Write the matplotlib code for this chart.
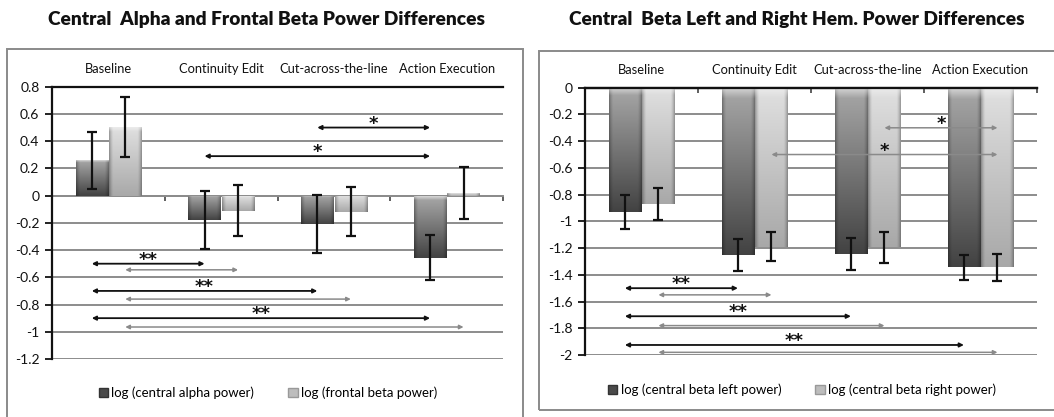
import numpy as np
import matplotlib
matplotlib.use("Agg")
import matplotlib.pyplot as plt
from matplotlib.patches import Rectangle, Patch
from matplotlib.transforms import blended_transform_factory

plt.rcParams['font.family'] = ['Lato', 'DejaVu Sans']
plt.rcParams['axes.unicode_minus'] = False

W, H = 1054, 417

categories = ['Baseline', 'Continuity Edit', 'Cut-across-the-line', 'Action Execution']

# ---- left panel data ----
left_title = 'Central  Alpha and Frontal Beta Power Differences'
left_series_names = ['log (central alpha power)', 'log (frontal beta power)']
alpha_vals = [0.26, -0.18, -0.21, -0.455]
alpha_err = [0.21, 0.215, 0.215, 0.165]
fbeta_vals = [0.505, -0.11, -0.12, 0.02]
fbeta_err = [0.22, 0.185, 0.18, 0.19]
left_yticks = [0.8, 0.6, 0.4, 0.2, 0, -0.2, -0.4, -0.6, -0.8, -1, -1.2]
left_ylabels = ['0.8', '0.6', '0.4', '0.2', '0', '-0.2', '-0.4', '-0.6', '-0.8', '-1', '-1.2']
# significance brackets: (from category, to category, series index, y, label)
left_brackets = [
    (2, 3, 0, 0.50, '*'),
    (1, 3, 0, 0.29, '*'),
    (0, 1, 0, -0.50, '**'),
    (0, 1, 1, -0.545, ''),
    (0, 2, 0, -0.70, '**'),
    (0, 2, 1, -0.76, ''),
    (0, 3, 0, -0.90, '**'),
    (0, 3, 1, -0.965, ''),
]

# ---- right panel data ----
right_title = 'Central  Beta Left and Right Hem. Power Differences'
right_series_names = ['log (central beta left power)', 'log (central beta right power)']
bleft_vals = [-0.93, -1.255, -1.245, -1.345]
bleft_err = [0.13, 0.12, 0.122, 0.095]
bright_vals = [-0.87, -1.19, -1.195, -1.345]
bright_err = [0.123, 0.11, 0.116, 0.10]
right_yticks = [0, -0.2, -0.4, -0.6, -0.8, -1, -1.2, -1.4, -1.6, -1.8, -2]
right_ylabels = ['0', '-0.2', '-0.4', '-0.6', '-0.8', '-1', '-1.2', '-1.4', '-1.6', '-1.8', '-2']
right_brackets = [
    (2, 3, 1, -0.30, '*'),
    (1, 3, 1, -0.50, '*'),
    (0, 1, 0, -1.50, '**'),
    (0, 1, 1, -1.55, ''),
    (0, 2, 0, -1.71, '**'),
    (0, 2, 1, -1.78, ''),
    (0, 3, 0, -1.925, '**'),
    (0, 3, 1, -1.98, ''),
]

BAR_W = 0.285
OFFS = [-0.147, 0.150]
DARK = (0.66, 0.26)   # top, bottom gray levels
LIGHT = (0.88, 0.66)
ARROW_COLORS = ['#111111', '#8a8a8a']


def shade(ax, bars, top, bottom):
    ny, nx = 80, 40
    for b in bars:
        x0, y0 = b.get_x(), b.get_y()
        w, h = b.get_width(), b.get_height()
        ylo, yhi = min(y0, y0 + h), max(y0, y0 + h)
        t = np.linspace(0, 1, ny)[:, None]
        s = np.linspace(-1, 1, nx)[None, :]
        base = top + (bottom - top) * t
        edge = np.clip((np.abs(s) - 0.75) / 0.25, 0, 1) ** 1.5
        val = base * (1 - 0.30 * edge)
        rim = np.clip(1 - t / 0.06, 0, 1)
        val = val + (0.95 - val) * rim * 0.6
        val = np.clip(val, 0, 1)
        img = np.dstack([val, val, val])
        im = ax.imshow(img, extent=(x0, x0 + w, ylo, yhi), origin='upper',
                       aspect='auto', zorder=2.1, interpolation='bilinear')
        im.set_clip_path(b)


def panel(ax, s1, e1, s2, e2, yticks, ylabels, ylim, zero_is_top, brackets):
    x = np.arange(len(categories))
    b1 = ax.bar(x + OFFS[0], s1, BAR_W, color='#555555', edgecolor='none', zorder=2)
    b2 = ax.bar(x + OFFS[1], s2, BAR_W, color='#bbbbbb', edgecolor='none', zorder=2)
    shade(ax, b1, *DARK)
    shade(ax, b2, *LIGHT)
    ax.errorbar(x + OFFS[0], s1, yerr=e1, fmt='none', ecolor='#111111',
                elinewidth=1.6, capsize=3.6, capthick=1.6, zorder=4)
    ax.errorbar(x + OFFS[1], s2, yerr=e2, fmt='none', ecolor='#111111',
                elinewidth=1.6, capsize=3.6, capthick=1.6, zorder=4)

    ax.set_xlim(-0.5, len(categories) - 0.5)
    ax.set_ylim(*ylim)
    ax.set_yticks(yticks)
    ax.set_yticklabels(ylabels, fontsize=10)
    ax.tick_params(axis='y', length=5, width=1.3, direction='out', pad=4, colors='#111111')
    ax.yaxis.grid(True, color='#8c8c8c', linewidth=1.4)
    ax.set_axisbelow(True)

    ax.spines['right'].set_visible(False)
    ax.spines['left'].set_linewidth(1.6)
    ax.spines['left'].set_color('#111111')
    ax.spines['top'].set_color('#111111')
    ax.spines['top'].set_linewidth(1.6)
    ax.spines['bottom'].set_position(('data', 0))
    if zero_is_top:
        ax.spines['bottom'].set_color('#111111')
        ax.spines['bottom'].set_linewidth(1.6)
    else:
        ax.spines['bottom'].set_color('#8c8c8c')
        ax.spines['bottom'].set_linewidth(1.4)
    ax.spines['bottom'].set_zorder(1.5)
    ax.set_xticks(np.arange(len(categories)) + 0.5)
    ax.set_xticklabels([])
    ax.tick_params(axis='x', length=3.5, width=1.2, direction='out', colors='#444444')

    tr = blended_transform_factory(ax.transData, ax.transAxes)
    for i, c in enumerate(categories):
        ax.text(i, 1.065, c, transform=tr, ha='center', va='center', fontsize=9.3,
                color='#111111')

    for (ca, cb, si, y, lab) in brackets:
        xa = ca + OFFS[si]
        xb = cb + OFFS[si]
        col = ARROW_COLORS[si]
        ax.annotate('', xy=(xb, y), xytext=(xa, y),
                    arrowprops=dict(arrowstyle='<|-|>', mutation_scale=6,
                                    lw=1.3 if si == 0 else 1.1, color=col,
                                    shrinkA=0, shrinkB=0), zorder=5)
        if lab:
            ax.annotate(lab, xy=((xa + xb) / 2, y), xytext=(0, -0.8),
                        textcoords='offset points', ha='center', va='baseline',
                        fontsize=13, fontweight='bold', color='#111111',
                        family=['DejaVu Sans'], zorder=6)


fig = plt.figure(figsize=(W / 100, H / 100), dpi=100)

# frames
fig.patches.append(Rectangle((7 / W, -0.05), (523 - 7) / W, 1 - 49 / H + 0.05,
                             transform=fig.transFigure, fill=False,
                             edgecolor='#8a8a8a', linewidth=1.4))
fig.patches.append(Rectangle((539 / W, 1 - 410 / H), (1060 - 539) / W, (410 - 51) / H,
                             transform=fig.transFigure, fill=False,
                             edgecolor='#8a8a8a', linewidth=1.4))

axL = fig.add_axes([52 / W, 1 - 359 / H, 451 / W, 272.3 / H])
panel(axL, alpha_vals, alpha_err, fbeta_vals, fbeta_err, left_yticks, left_ylabels,
      (-1.2, 0.8), False, left_brackets)

axR = fig.add_axes([585 / W, 1 - 355 / H, 452 / W, 267.3 / H])
panel(axR, bleft_vals, bleft_err, bright_vals, bright_err, right_yticks, right_ylabels,
      (-2, 0), True, right_brackets)

title_fam = ['Lato', 'DejaVu Sans']
fig.text(267 / W, 1 - 19 / H, left_title, ha='center', va='center', fontsize=13.8,
         fontweight='heavy', family=title_fam, color='#111111')
fig.text(797 / W, 1 - 19 / H, right_title, ha='center', va='center', fontsize=13.8,
         fontweight='heavy', family=title_fam, color='#111111')

for names, cx, cy in [(left_series_names, 268, 393), (right_series_names, 802, 390)]:
    handles = [Patch(facecolor='#4a4a4a', edgecolor='#333333'),
               Patch(facecolor='#bdbdbd', edgecolor='#999999')]
    fig.legend(handles, names, loc='center', bbox_to_anchor=(cx / W, 1 - cy / H),
               ncol=2, frameon=False, fontsize=9.5, handlelength=0.7,
               handleheight=0.7, handletextpad=0.25, columnspacing=2.6)

fig.savefig('out.png', dpi=100)
